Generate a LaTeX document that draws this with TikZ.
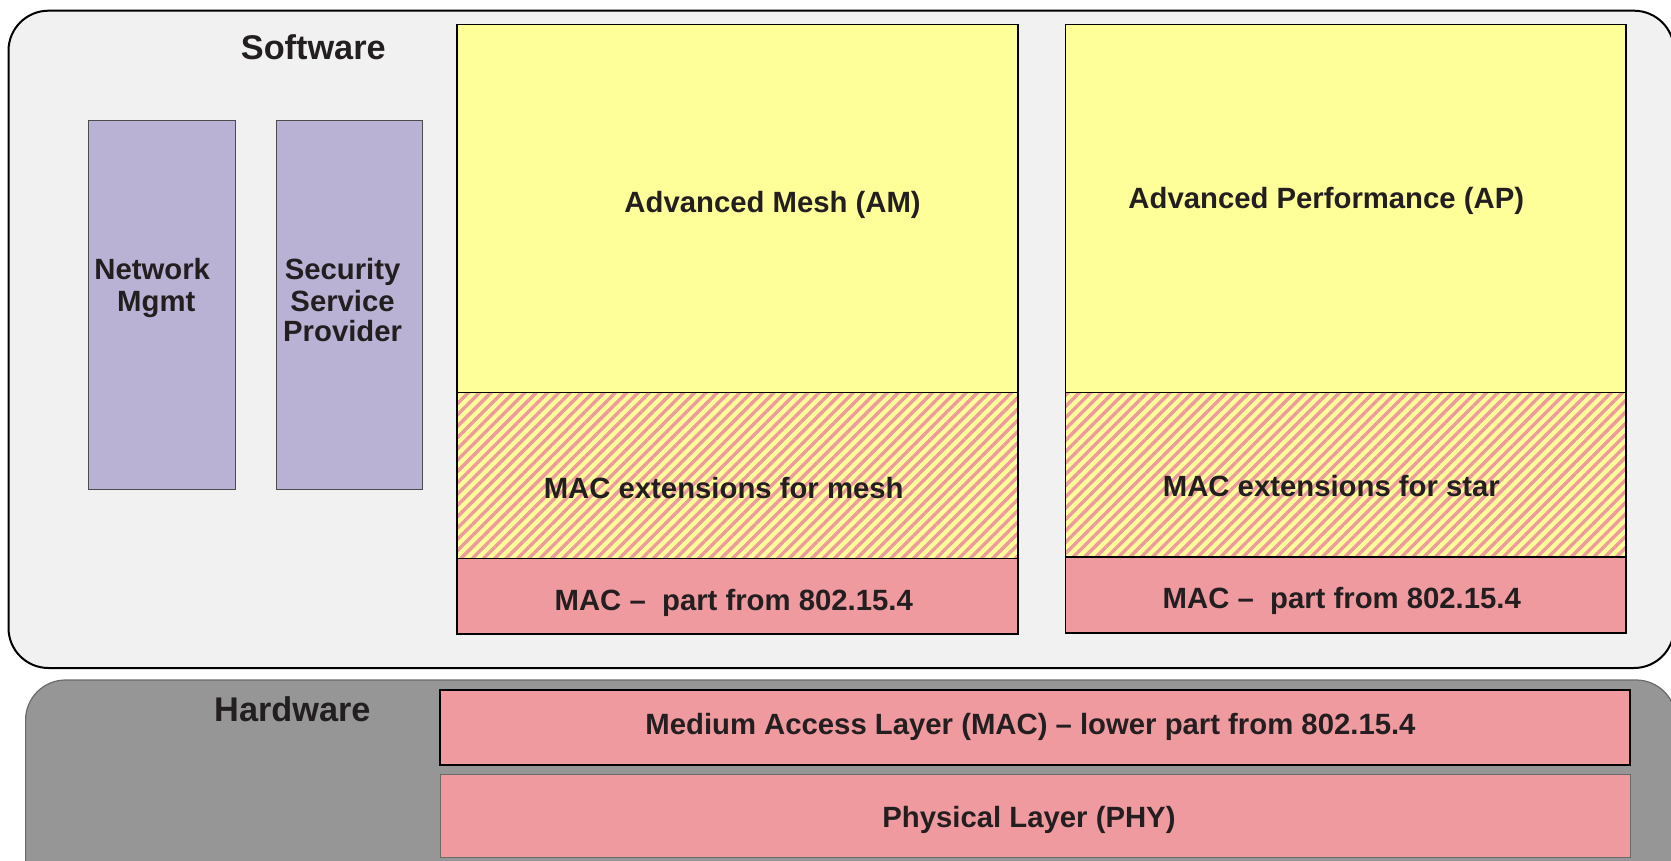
\documentclass[tikz,border=0pt]{standalone}
\usepackage{fontspec}
\setmainfont{Liberation Sans}
\usetikzlibrary{patterns.meta}

\definecolor{swbg}{HTML}{F1F1F1}
\definecolor{hwbg}{HTML}{969696}
\definecolor{hwline}{HTML}{6A6A6A}
\definecolor{layeryellow}{HTML}{FFFF99}
\definecolor{layerpink}{HTML}{EF9A9F}
\definecolor{stripe}{HTML}{EC9A9C}
\definecolor{lavender}{HTML}{BAB2D4}
\definecolor{ink}{HTML}{231F20}

\tikzset{
  boxbase/.style={rectangle, inner sep=0pt, outer sep=0pt, anchor=north west},
  yellowbox/.style={boxbase, fill=layeryellow, draw=black, line width=1.6pt},
  hatchbox/.style={boxbase, draw=black, line width=1.6pt,
    preaction={fill=layeryellow},
    pattern={Lines[angle=45,distance=8pt,line width=3.4pt]}, pattern color=stripe},
  pinkbox/.style={boxbase, fill=layerpink, draw=black, line width=1.6pt},
  lavbox/.style={boxbase, fill=lavender, draw=black!70, line width=1pt},
  phybox/.style={boxbase, fill=layerpink, draw=hwline, line width=1pt},
  lbl/.style={anchor=base, inner sep=0pt, text=ink,
    font=\fontsize{29.3}{31}\selectfont\bfseries},
  biglbl/.style={anchor=base, inner sep=0pt, text=ink,
    font=\fontsize{34.3}{36}\selectfont\bfseries},
}

\begin{document}
\begin{tikzpicture}[x=1pt,y=-1pt]
\useasboundingbox (0,0) rectangle (1671,861);

% outer software and hardware panels
\draw[fill=swbg, draw=black, line width=2pt, rounded corners=40pt]
  (8.5,10.7) rectangle (1674,668);
\draw[fill=hwbg, draw=hwline, line width=1.2pt, rounded corners=40pt]
  (25.6,680) rectangle (1676,900);

\node[biglbl] (swlabel) at (313.3,60) {Software};
\node[biglbl] (hwlabel) at (292.4,721.7) {Hardware};

% management columns
\node[lavbox, minimum width=147pt, minimum height=368.4pt] (netmgmt) at (88.6,120.6) {};
\node[lavbox, minimum width=146.4pt, minimum height=368.4pt] (ssp) at (276.3,120.6) {};
\node[lbl] (net1) at (152.2,279.4) {Network};
\node[lbl] (net2) at (156.3,311) {Mgmt};
\node[lbl] (ssp1) at (342.6,279.4) {Security};
\node[lbl] (ssp2) at (342.6,311) {Service};
\node[lbl] (ssp3) at (342.6,341.7) {Provider};

% mesh stack
\node[yellowbox, minimum width=560.6pt, minimum height=368.1pt] (am) at (457.2,24.4) {};
\node[hatchbox, minimum width=560.6pt, minimum height=166.1pt] (amext) at (457.2,392.5) {};
\node[pinkbox, minimum width=560.6pt, minimum height=75.6pt] (ammac) at (457.2,558.6) {};
\node[lbl] (amtxt) at (772.6,213) {Advanced Mesh (AM)};
\node[lbl] (amexttxt) at (723.7,498.3) {MAC extensions for mesh};
\node[lbl] (ammactxt) at (733.8,610) {MAC –\ \ part from 802.15.4};

% star stack
\node[yellowbox, minimum width=560.4pt, minimum height=368.1pt] (ap) at (1065.6,24.4) {};
\node[hatchbox, minimum width=560.4pt, minimum height=164.5pt] (apext) at (1065.6,392.5) {};
\node[pinkbox, minimum width=560.4pt, minimum height=75.7pt] (apmac) at (1065.6,557) {};
\node[lbl] (aptxt) at (1326.3,208.5) {Advanced Performance (AP)};
\node[lbl] (apexttxt) at (1331.4,496.7) {MAC extensions for star};
\node[lbl] (apmactxt) at (1341.8,608.3) {MAC –\ \ part from 802.15.4};

% hardware layers
\node[pinkbox, line width=2pt, minimum width=1190.4pt, minimum height=75.3pt] (maclow) at (440,690) {};
\node[phybox, minimum width=1189.5pt, minimum height=83pt] (phy) at (440.5,774.3) {};
\node[lbl] (maclowtxt) at (1030.5,734.5) {Medium Access Layer (MAC) – lower part from 802.15.4};
\node[lbl] (phytxt) at (1029,827.5) {Physical Layer (PHY)};
\end{tikzpicture}
\end{document}
